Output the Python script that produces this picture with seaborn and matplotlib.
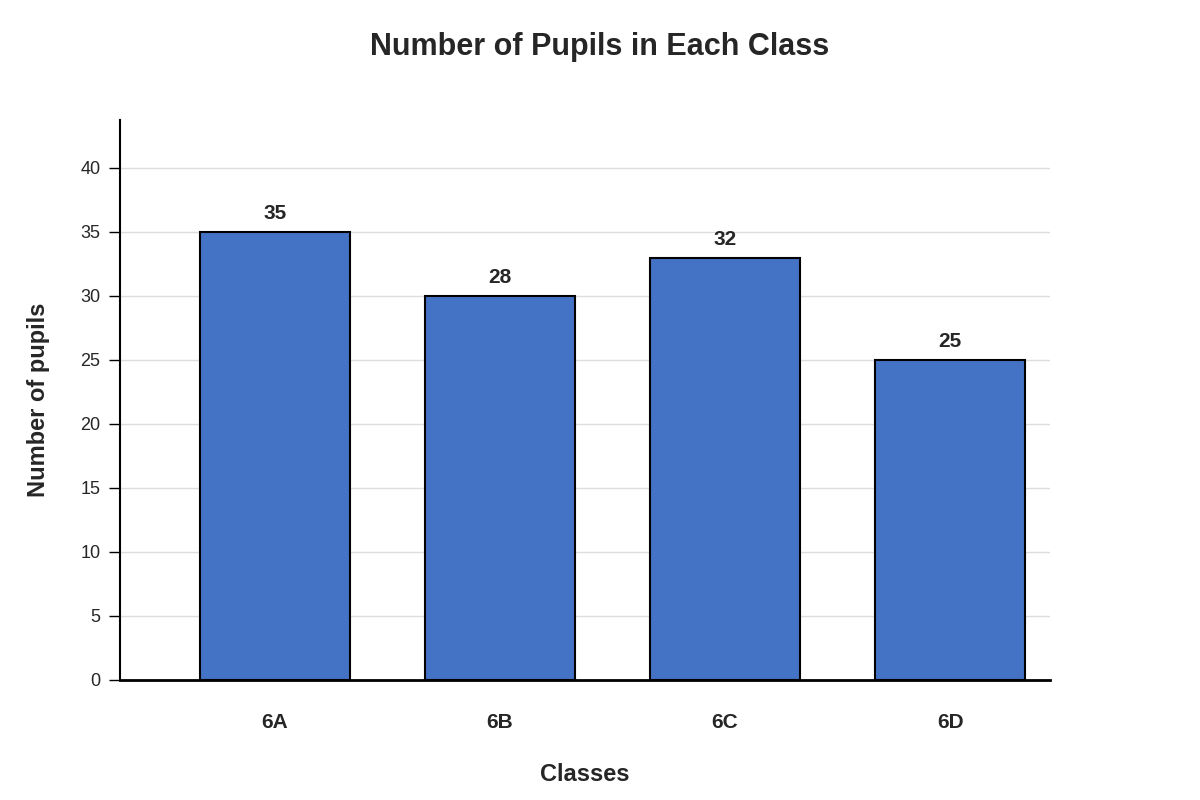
import matplotlib
matplotlib.use("Agg")
import matplotlib.pyplot as plt
import seaborn as sns
import pandas as pd

classes = ["6A", "6B", "6C", "6D"]
bar_heights = [35, 30, 33, 25]
bar_labels = ["35", "28", "32", "25"]

sns.set_theme(style="white")
plt.rcParams['font.family'] = ['Liberation Sans', 'DejaVu Sans']

fig = plt.figure(figsize=(12, 8), dpi=100)
ax = fig.add_axes([0.1, 0.15, 0.775, 0.70])
df = pd.DataFrame({"c": classes, "v": bar_heights})
sns.barplot(data=df, x="c", y="v", ax=ax, color="#4472C4", saturation=1,
            width=0.667, edgecolor="black", linewidth=1.5, zorder=3)
for p, lab in zip(ax.patches, bar_labels):
    ax.text(p.get_x() + p.get_width() / 2, p.get_height() + 0.7, lab,
            ha="center", va="bottom", fontsize=15, fontweight="bold")
ax.set_ylim(0, 43.75)
ax.set_xlim(-0.689, 3.444)
ax.set_yticks(range(0, 45, 5))
ax.yaxis.grid(True, color="#dddddd", linewidth=1, zorder=0)
ax.set_axisbelow(True)
for s in ["top", "right"]:
    ax.spines[s].set_visible(False)
ax.spines["left"].set_color("black"); ax.spines["left"].set_linewidth(1.5)
ax.spines["bottom"].set_color("black"); ax.spines["bottom"].set_linewidth(2)
ax.tick_params(axis="y", left=True, length=8, width=1, color="black", labelsize=13, pad=6)
ax.tick_params(axis="x", bottom=False, labelsize=15, pad=18)
for t in ax.get_xticklabels():
    t.set_fontweight("bold")
ax.set_xlabel("Classes", fontsize=17, fontweight="bold", labelpad=22)
ax.set_ylabel("Number of pupils", fontsize=17, fontweight="bold", labelpad=22)
fig.suptitle("Number of Pupils in Each Class", fontsize=22, fontweight="bold", y=0.96)
fig.savefig("out.png", dpi=100)
